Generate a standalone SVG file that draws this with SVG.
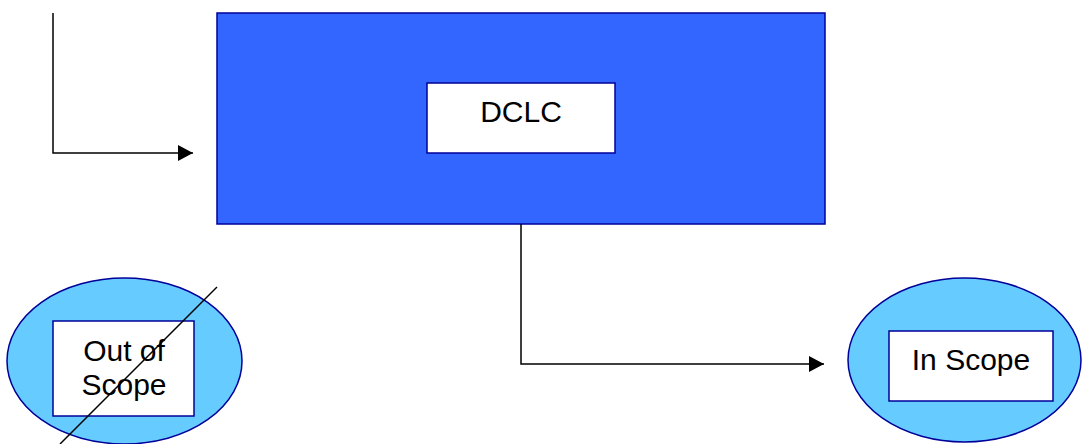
<svg xmlns="http://www.w3.org/2000/svg" width="1082" height="444" viewBox="0 0 1082 444">
<style>
.lbl{font-family:"Liberation Sans",Arial,sans-serif;font-size:30px;fill:#000;text-anchor:middle}
.box{fill:#fff;stroke:#000099;stroke-width:1.5}
.ell{fill:#66CCFF;stroke:#000099;stroke-width:1.5}
.conn{fill:none;stroke:#000;stroke-width:1.5}
</style>
<defs>
<marker id="arr" viewBox="0 0 15 16" refX="15" refY="8" markerWidth="15" markerHeight="16" markerUnits="userSpaceOnUse" orient="auto">
<path d="M0,0 L15,8 L0,16 Z" fill="#000"/>
</marker>
</defs>
<rect width="1082" height="444" fill="#fff"/>
<g id="dclc-group">
<rect x="217" y="13" width="608" height="211" fill="#3366FF" stroke="#000099" stroke-width="1.5"/>
</g>
<g id="dclc">
<rect class="box" x="427" y="83" width="188" height="70"/>
<text class="lbl" x="521" y="122">DCLC</text>
</g>
<g id="out-of-scope">
<ellipse class="ell" cx="124.5" cy="361" rx="117.5" ry="83"/>
<rect class="box" x="53" y="321" width="141" height="95"/>
<text class="lbl" x="124" y="361">Out of</text>
<text class="lbl" x="124" y="395">Scope</text>
<line x1="217" y1="287" x2="60" y2="444" stroke="#000" stroke-width="1.5"/>
</g>
<g id="in-scope">
<ellipse class="ell" cx="964.5" cy="360" rx="116.5" ry="82"/>
<rect class="box" x="889" y="331" width="164" height="70"/>
<text class="lbl" x="971" y="370">In Scope</text>
</g>
<g id="connectors">
<path class="conn" d="M53,13 L53,153 L193,153" marker-end="url(#arr)"/>
<path class="conn" d="M521,224 L521,364 L824,364" marker-end="url(#arr)"/>
</g>
</svg>
